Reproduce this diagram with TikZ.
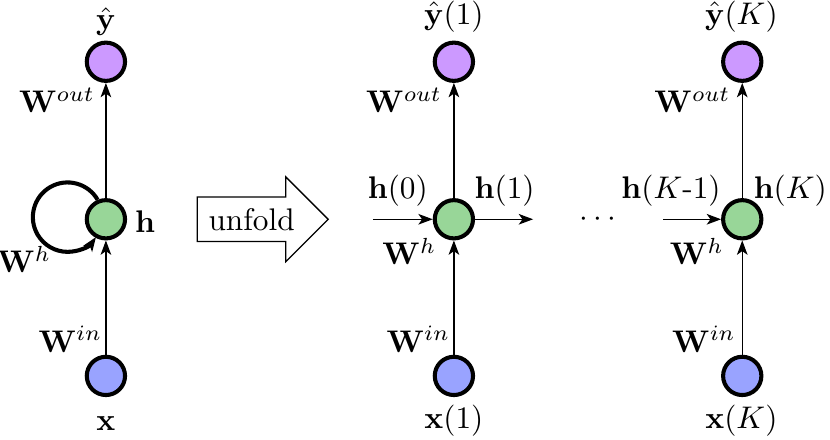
\documentclass[tikz,border=0pt]{standalone}
\usetikzlibrary{positioning, shapes.arrows, arrows.meta}
\definecolor{inblue}{RGB}{153,163,255}
\definecolor{hidgreen}{RGB}{152,214,152}
\definecolor{outpurple}{RGB}{204,153,255}
\tikzset{%
    neuron/.style={
      circle,
      draw,
      line width=1.3pt,
      minimum size=0.43cm,
      inner sep=0pt
    },
    input neuron/.style={neuron, fill=inblue},
    hidden neuron/.style={neuron, fill=hidgreen},
    output neuron/.style={neuron, fill=outpurple},
    unfold arrow/.style={
      single arrow,
      draw,
      single arrow head extend=0.225cm,
      minimum width=0.9cm,
      minimum height=1.47cm
    }
  }
\begin{document}
\begin{tikzpicture}[>={Stealth[length=4.6pt, width=3.4pt, inset=1.2pt]}, scale = 1]
      \useasboundingbox (0,0) rectangle (9.326,4.944);

      % folded network
      \node [output neuron] (y) at (1.19,4.25) {};
      \node [hidden neuron] (h) at (1.19,2.48) {};
      \node [input neuron] (x) at (1.19,0.72) {};

      \node [] (ly) at (1.19,4.70) {$\hat{\mathbf{y}}$};
      \node [] (wo) at (0.64,3.82) {$\mathbf{W}^{out}$};
      \node [] (lh) at (1.63,2.45) {$\mathbf{h}$};
      \node [] (wh) at (0.27,2.03) {$\mathbf{W}^{h}$};
      \node [] (wi) at (0.79,1.13) {$\mathbf{W}^{in}$};
      \node [] (lx) at (1.19,0.18) {$\mathbf{x}$};

      \draw [->] (x) -- (h);
      \draw [->] (h) -- (y);
      \draw [->, line width=1.3pt] (h.113) arc[start angle=30, end angle=325, radius=0.39cm];

      \node [unfold arrow, anchor=tail] (unf) at (2.21,2.48) {unfold};

      % step 1
      \node [output neuron] (y1) at (5.10,4.25) {};
      \node [hidden neuron] (h1) at (5.10,2.48) {};
      \node [input neuron] (x1) at (5.10,0.72) {};

      \node [] (ly1) at (5.10,4.76) {$\hat{\mathbf{y}}(1)$};
      \node [] (wo1) at (4.54,3.82) {$\mathbf{W}^{out}$};
      \node [] (lh0) at (4.47,2.80) {$\mathbf{h}(0)$};
      \node [] (lh1) at (5.67,2.80) {$\mathbf{h}(1)$};
      \node [] (wh1) at (4.60,2.12) {$\mathbf{W}^{h}$};
      \node [] (wi1) at (4.70,1.13) {$\mathbf{W}^{in}$};
      \node [] (lx1) at (5.10,0.22) {$\mathbf{x}(1)$};

      \coordinate (hin1) at (4.19,2.48);
      \coordinate (hout1) at (5.99,2.48);

      \draw [->] (x1) -- (h1);
      \draw [->] (h1) -- (y1);
      \draw [->] (hin1) -- (h1);
      \draw [->] (h1) -- (hout1);

      \node [] (dots) at (6.72,2.48) {$\cdots$};

      % step K
      \node [output neuron] (yK) at (8.34,4.25) {};
      \node [hidden neuron] (hK) at (8.34,2.48) {};
      \node [input neuron] (xK) at (8.34,0.72) {};

      \node [] (lyK) at (8.33,4.76) {$\hat{\mathbf{y}}(K)$};
      \node [] (woK) at (7.78,3.82) {$\mathbf{W}^{out}$};
      \node [] (lhK1) at (7.54,2.80) {$\mathbf{h}(K\mbox{-}1)$};
      \node [] (lhK) at (8.88,2.80) {$\mathbf{h}(K)$};
      \node [] (whK) at (7.83,2.12) {$\mathbf{W}^{h}$};
      \node [] (wiK) at (7.91,1.13) {$\mathbf{W}^{in}$};
      \node [] (lxK) at (8.33,0.22) {$\mathbf{x}(K)$};

      \coordinate (hinK) at (7.45,2.48);

      \draw [->] (xK) -- (hK);
      \draw [->] (hK) -- (yK);
      \draw [->] (hinK) -- (hK);
    \end{tikzpicture}
\end{document}
